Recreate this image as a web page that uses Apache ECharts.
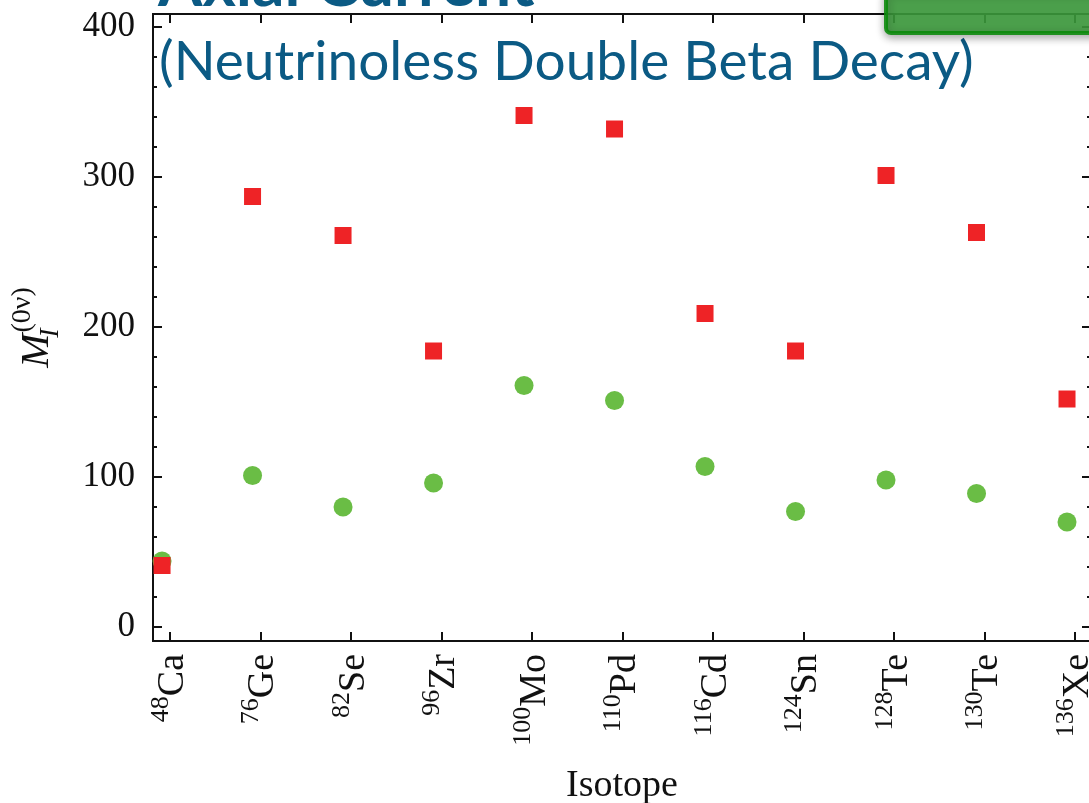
<!DOCTYPE html>
<html>
<head>
<meta charset="utf-8">
<script src="https://cdn.jsdelivr.net/npm/echarts@6/dist/echarts.min.js"></script>
<style>
  html, body { margin: 0; padding: 0; background: #ffffff; }
  #chart { width: 1089px; height: 803px; }
</style>
</head>
<body>
<div id="chart"></div>
<script>
// Isotopes along the x axis (mass number shown as a superscript)
const massNumbers = ['48', '76', '82', '96', '100', '110', '116', '124', '128', '130', '136'];
const elements = ['Ca', 'Ge', 'Se', 'Zr', 'Mo', 'Pd', 'Cd', 'Sn', 'Te', 'Te', 'Xe'];

// Matrix elements per isotope
const squareValues = [41, 287, 261, 184, 341, 332, 209, 184, 301, 263, 152];
const circleValues = [44, 101, 80, 96, 161, 151, 107, 77, 98, 89, 70];

// Tick values
const yMajorTicks = [0, 100, 200, 300, 400];
const yMinorTicks = [20, 40, 60, 80, 120, 140, 160, 180, 220, 240, 260, 280, 320, 340, 360, 380, 400];
const tickShift = 0.088;            // ticks sit slightly right of the markers
const xTicks = massNumbers.map((_, i) => i + tickShift);

const X_MIN = -0.1, X_MAX = 10.265;
const Y_MIN = -9.33, Y_MAX = 408.67;

const serif = '"Liberation Serif", "Times New Roman", serif';
const black = '#111111';

function toPoints(values) {
  return values.map((v, i) => [i, v]);
}

function xAxisCfg(position, showLabels) {
  return {
    type: 'value',
    position: position,
    min: X_MIN,
    max: X_MAX,
    splitLine: { show: false },
    axisLine: { show: true, onZero: false, lineStyle: { color: black, width: 2 } },
    axisTick: { show: true, inside: true, length: 9, customValues: xTicks, lineStyle: { color: black, width: 2 } },
    axisLabel: showLabels ? {
      show: true,
      customValues: xTicks,
      rotate: 90,
      margin: 13,
      formatter: function (val) {
        const i = Math.round(val - tickShift);
        return '{sup|' + massNumbers[i] + '}{el|' + elements[i] + '}';
      },
      rich: {
        sup: { fontFamily: serif, fontSize: 26, color: black, verticalAlign: 'top', lineHeight: 44 },
        el: { fontFamily: serif, fontSize: 38, color: black, verticalAlign: 'bottom', lineHeight: 44 }
      }
    } : { show: false }
  };
}

function yAxisCfg(position, ticks, len, showLabels) {
  return {
    type: 'value',
    position: position,
    min: Y_MIN,
    max: Y_MAX,
    splitLine: { show: false },
    axisLine: { show: true, onZero: false, lineStyle: { color: black, width: 2 } },
    axisTick: { show: true, inside: true, length: len, customValues: ticks, lineStyle: { color: black, width: 2 } },
    axisLabel: showLabels ? {
      show: true,
      customValues: ticks,
      margin: 18,
      fontFamily: serif,
      fontSize: 35,
      color: black
    } : { show: false }
  };
}

const chart = echarts.init(document.getElementById('chart'), null, { renderer: 'canvas' });

const xBottom = xAxisCfg('bottom', true);
xBottom.name = 'Isotope';
xBottom.nameLocation = 'middle';
xBottom.nameGap = 126;
xBottom.nameTextStyle = { fontFamily: serif, fontSize: 38, color: black };

const yLeft = yAxisCfg('left', yMajorTicks, 9, true);
yLeft.name = '{m|M}{sub|I}{sup|(0ν)}';
yLeft.nameLocation = 'middle';
yLeft.nameRotate = 90;
yLeft.nameGap = 88;
yLeft.nameTextStyle = {
  rich: {
    m: { fontFamily: serif, fontStyle: 'italic', fontSize: 41, color: black, lineHeight: 56, verticalAlign: 'middle' },
    sub: { fontFamily: serif, fontStyle: 'italic', fontSize: 28, color: black, lineHeight: 56, verticalAlign: 'bottom', width: 1 },
    sup: { fontFamily: serif, fontSize: 28, color: black, lineHeight: 56, verticalAlign: 'top' }
  }
};

const option = {
  backgroundColor: '#ffffff',
  animation: false,
  grid: { left: 153, right: -2, top: 14, bottom: 162, containLabel: false, outerBoundsMode: 'none' },
  xAxis: [xBottom, xAxisCfg('top', false)],
  yAxis: [
    yLeft,
    yAxisCfg('left', yMinorTicks, 4, false),
    yAxisCfg('right', yMajorTicks, 9, false),
    yAxisCfg('right', yMinorTicks, 4, false)
  ],
  series: [
    {
      type: 'scatter',
      xAxisIndex: 0,
      yAxisIndex: 0,
      symbol: 'circle',
      symbolSize: 19,
      itemStyle: { color: '#6abd45', opacity: 1 },
      data: toPoints(circleValues),
      z: 3
    },
    {
      type: 'scatter',
      xAxisIndex: 0,
      yAxisIndex: 0,
      symbol: 'rect',
      symbolSize: 17,
      itemStyle: { color: '#ee2326', opacity: 1 },
      data: toPoints(squareValues),
      z: 4
    }
  ],
  graphic: [
    {
      type: 'text',
      left: 158,
      top: -47,
      z: 20,
      style: {
        text: 'Axial Current',
        font: 'bold 64px Lato, "Noto Sans", sans-serif',
        fill: '#0b5a84'
      }
    },
    {
      type: 'text',
      left: 159,
      top: 35,
      z: 20,
      style: {
        text: '(Neutrinoless Double Beta Decay)',
        font: '55px Lato, "Noto Sans", sans-serif',
        fill: '#0b5a84'
      }
    },
    {
      type: 'rect',
      left: 884,
      top: -12,
      z: 20,
      shape: { width: 230, height: 43, r: 5 },
      style: {
        fill: '#3c9c3c',
        stroke: '#0a8a0a',
        lineWidth: 4,
        opacity: 0.88,
        shadowBlur: 8,
        shadowOffsetY: 3,
        shadowColor: 'rgba(0,0,0,0.35)'
      }
    }
  ]
};

chart.setOption(option);
</script>
</body>
</html>
